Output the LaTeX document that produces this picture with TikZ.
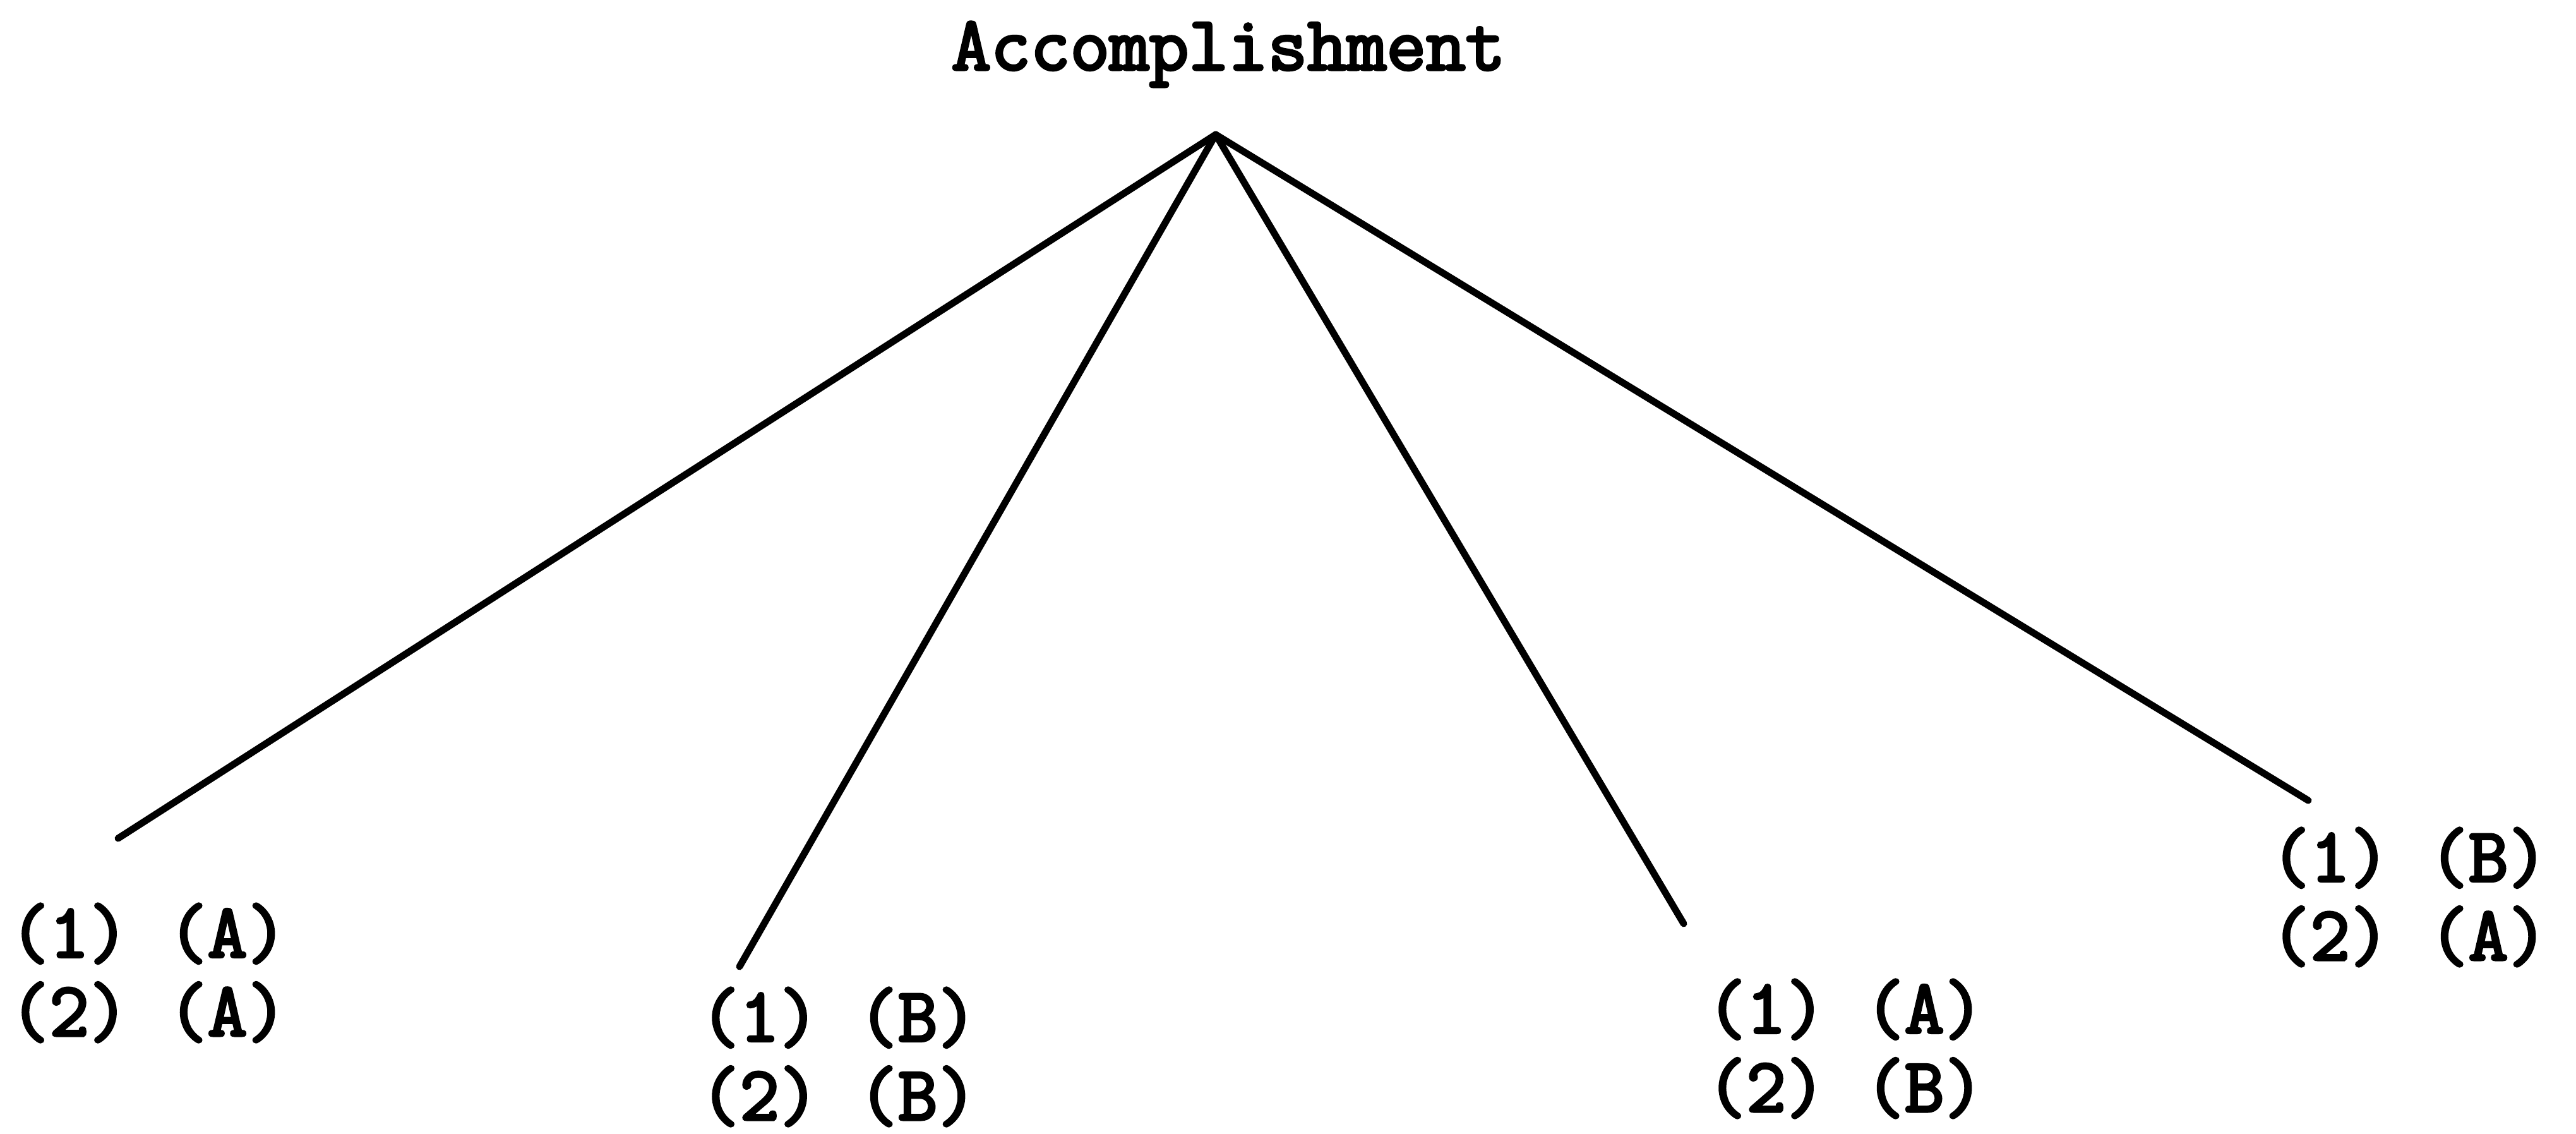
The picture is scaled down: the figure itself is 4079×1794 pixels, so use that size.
\documentclass[tikz,border=0pt]{standalone}
\usepackage{fontspec}
\newfontfamily\twfont{Latin Modern Mono}[FakeBold=3.5]
\begin{document}
\begin{tikzpicture}[x=0.1mm,y=-0.1mm,
  lbl/.style={inner sep=0pt,anchor=west,align=left,font=\twfont\fontsize{34.6}{35.4}\selectfont},
  branch/.style={line width=3.1pt,line cap=round}]
\useasboundingbox (0,0) rectangle (4079,1794);
\node[lbl,anchor=center] (root) at (1945,86) {Accomplishment};
\coordinate (apex) at (1925,213);
\coordinate (e1) at (187,1327);
\coordinate (e2) at (1171,1530);
\coordinate (e3) at (2666,1462);
\coordinate (e4) at (3655,1267);
\draw[branch] (apex) -- (e1);
\draw[branch] (apex) -- (e2);
\draw[branch] (apex) -- (e3);
\draw[branch] (apex) -- (e4);
\node[lbl] (l1) at (15,1540) {(1) (A)\\(2) (A)};
\node[lbl] (l2) at (1108,1673) {(1) (B)\\(2) (B)};
\node[lbl] (l3) at (2702,1660) {(1) (A)\\(2) (B)};
\node[lbl] (l4) at (3595,1420) {(1) (B)\\(2) (A)};
\end{tikzpicture}
\end{document}
